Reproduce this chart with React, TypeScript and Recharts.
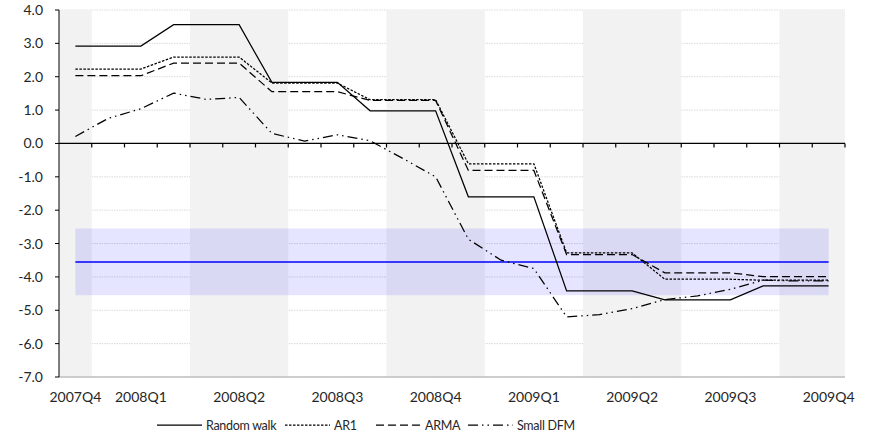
import { LineChart, Line, XAxis, YAxis, CartesianGrid, ReferenceArea, ReferenceLine, Legend } from 'recharts';

const months = [
  '2007-12', '2008-01', '2008-02', '2008-03', '2008-04', '2008-05', '2008-06', '2008-07',
  '2008-08', '2008-09', '2008-10', '2008-11', '2008-12', '2009-01', '2009-02', '2009-03',
  '2009-04', '2009-05', '2009-06', '2009-07', '2009-08', '2009-09', '2009-10', '2009-11',
];

const randomWalk = [2.92, 2.92, 2.92, 3.56, 3.56, 3.56, 1.83, 1.83, 1.83, 0.98, 0.98, 0.98, -1.6, -1.6, -1.6, -4.42, -4.42, -4.42, -4.69, -4.69, -4.69, -4.27, -4.27, -4.27];
const ar1 = [2.23, 2.23, 2.23, 2.59, 2.59, 2.59, 1.81, 1.81, 1.81, 1.31, 1.31, 1.31, -0.61, -0.61, -0.61, -3.28, -3.28, -3.28, -4.07, -4.07, -4.07, -4.1, -4.1, -4.1];
const arma = [2.03, 2.03, 2.03, 2.41, 2.41, 2.41, 1.55, 1.55, 1.55, 1.29, 1.29, 1.29, -0.81, -0.81, -0.81, -3.33, -3.33, -3.33, -3.88, -3.88, -3.88, -3.99, -3.99, -3.99];
const smallDfm = [0.21, 0.75, 1.04, 1.51, 1.32, 1.38, 0.3, 0.07, 0.26, 0.08, -0.45, -1.0, -2.87, -3.5, -3.75, -5.2, -5.13, -4.95, -4.68, -4.57, -4.37, -4.1, -4.12, -4.12];

// quarter labels sit under these month indices
const tickIndex = [0, 2, 5, 8, 11, 14, 17, 20, 23];
const tickLabels = ['2007Q4', '2008Q1', '2008Q2', '2008Q3', '2008Q4', '2009Q1', '2009Q2', '2009Q3', '2009Q4'];

// shaded quarters, in month-boundary units
const shadedQuarters = [[0, 1], [4, 7], [10, 13], [16, 19], [22, 24]];

const bandTop = -2.55;
const bandMid = -3.55;
const bandBottom = -4.55;

const yTicks = [4, 3, 2, 1, 0, -1, -2, -3, -4, -5, -6, -7];

const data = months.map((m, i) => ({
  month: m,
  x: i + 0.5,
  rw: randomWalk[i],
  ar1: ar1[i],
  arma: arma[i],
  dfm: smallDfm[i],
}));

const series = [
  { key: 'rw', name: 'Random walk', dash: undefined },
  { key: 'ar1', name: 'AR1', dash: '2.5 1.5' },
  { key: 'arma', name: 'ARMA', dash: '8 4' },
  { key: 'dfm', name: 'Small DFM', dash: '10 4 1.5 4 1.5 4' },
];

// legend column widths (px), like the Excel legend
const legendCols = [128, 91, 92, 110];

const FONT = 'Lato, "Open Sans", sans-serif';

function LegendBox() {
  return (
    <div style={{ width: 870, height: 20, display: 'flex', alignItems: 'center', paddingLeft: 157, boxSizing: 'border-box', fontFamily: FONT, fontSize: 12.5, letterSpacing: -0.3, color: '#262626', whiteSpace: 'nowrap' }}>
      {series.map((s, i) => (
        <div key={s.key} style={{ display: 'flex', alignItems: 'center', width: legendCols[i], minWidth: legendCols[i], flexShrink: 0 }}>
          <svg width={45} height={10} style={{ flexShrink: 0 }}>
            <line x1={0} y1={5} x2={45} y2={5} stroke="#000" strokeWidth={1.25} strokeDasharray={s.dash} />
          </svg>
          <span style={{ marginLeft: 4 }}>{s.name}</span>
        </div>
      ))}
    </div>
  );
}

export default function App() {
  return (
    <div style={{ position: 'absolute', left: 0, top: 0 }}>
      <LineChart width={870} height={441} data={data} margin={{ top: 10, right: 25, left: 0, bottom: 6 }}>
        {shadedQuarters.map(([a, b]) => (
          <ReferenceArea key={a} x1={a} x2={b} y1={-7} y2={4} fill="#f2f2f2" fillOpacity={1} stroke="none" />
        ))}
        <CartesianGrid vertical={false} stroke="#dadada" strokeDasharray="1.5 1" />
        <ReferenceArea x1={0.5} x2={23.5} y1={bandBottom} y2={bandTop} fill="#0000ff" fillOpacity={0.1} stroke="none" />
        <ReferenceLine segment={[{ x: 0.5, y: bandMid }, { x: 23.5, y: bandMid }]} stroke="#0000ff" strokeWidth={1.5} />
        <ReferenceLine y={0} stroke="#000" strokeWidth={1.2} />
        {months.map((_, i) => (
          <ReferenceLine key={'t' + i} segment={[{ x: i + 1, y: 0 }, { x: i + 1, y: -0.12 }]} stroke="#000" strokeWidth={1.2} />
        ))}
        <XAxis
          dataKey="x"
          type="number"
          domain={[0, 24]}
          ticks={tickIndex.map(i => i + 0.5)}
          tickFormatter={(v: number) => tickLabels[tickIndex.indexOf(v - 0.5)] ?? ''}
          height={38}
          tickLine={false}
          tickSize={5}
          tickMargin={10}
          axisLine={{ stroke: '#a6a6a6' }}
          tick={{ fill: '#262626', fontSize: 14, fontFamily: FONT }}
          interval={0}
        />
        <XAxis xAxisId="top" orientation="top" type="number" domain={[0, 24]} height={0} tick={false} tickLine={false} axisLine={{ stroke: '#a6a6a6' }} />
        <YAxis
          type="number"
          domain={[-7, 4]}
          ticks={yTicks}
          interval={0}
          width={59}
          tickFormatter={(v: number) => v.toFixed(1)}
          tickSize={4}
          tickMargin={12}
          axisLine={{ stroke: '#000' }}
          tickLine={{ stroke: '#000' }}
          tick={{ fill: '#262626', fontSize: 14, fontFamily: FONT }}
        />
        <YAxis yAxisId="right" orientation="right" width={0} tick={false} tickLine={false} axisLine={{ stroke: '#a6a6a6' }} />
        {series.map(s => (
          <Line
            key={s.key}
            type="linear"
            dataKey={s.key}
            name={s.name}
            stroke="#000"
            strokeWidth={1.25}
            strokeDasharray={s.dash}
            dot={false}
            activeDot={false}
            isAnimationActive={false}
          />
        ))}
        <Legend verticalAlign="bottom" wrapperStyle={{ left: 0, width: 870 }} content={() => <LegendBox />} />
      </LineChart>
    </div>
  );
}
